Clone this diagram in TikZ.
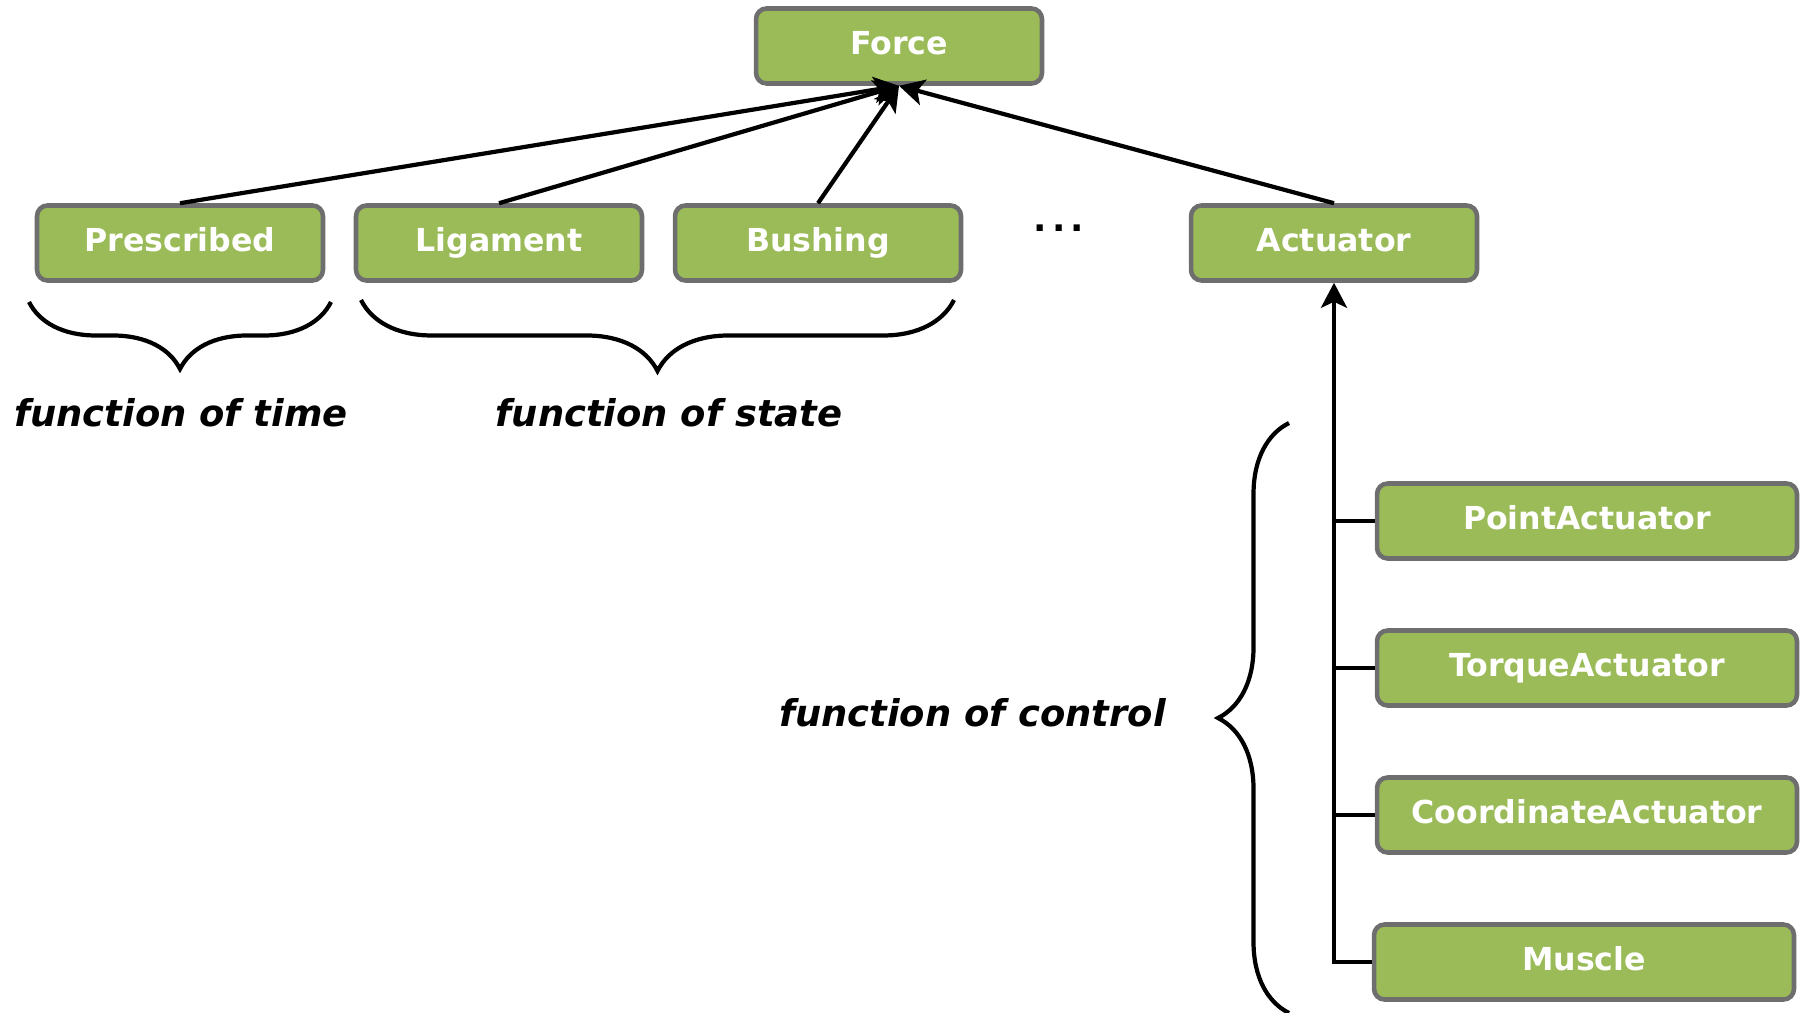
\documentclass[tikz,border=0pt]{standalone}
\usepackage{fontspec}
\setmainfont{DejaVu Sans}
\usepackage{xcolor}
\usetikzlibrary{arrows.meta,decorations.pathreplacing}

\definecolor{boxgreen}{HTML}{9BBB59}
\definecolor{boxgray}{HTML}{6E6E6E}

\begin{document}
\begin{tikzpicture}[x=0.02cm,y=-0.02cm]
  \tikzset{box/.style={draw=boxgray,fill=boxgreen,line width=2.6pt,rounded corners=6pt,minimum height=1.5cm,inner sep=0pt,text height=9.4pt,text depth=0pt,text=white,font=\fontsize{18}{20}\selectfont\bfseries},
    small/.style={box,minimum width=5.72cm},
    wide/.style={box,minimum width=8.4cm},
    link/.style={line width=2.4pt,-{Stealth[length=0.5cm,width=0.52cm,inset=0.12cm]}},
    bar/.style={line width=2.4pt},
    brc/.style={line width=2.4pt,decorate,decoration={brace,amplitude=#1}},
    note/.style={font=\fontsize{21}{24}\selectfont\bfseries\itshape}};
  \useasboundingbox (0,0) rectangle (1804,1013);
  \node[small] (Force) at (899,46){Force};
  \node[small] (Prescribed) at (180,243){Prescribed};
  \node[small] (Ligament) at (499,243){Ligament};
  \node[small] (Bushing) at (818,243){Bushing};
  \node[small] (Actuator) at (1334,243){Actuator};
  \node[font=\fontsize{20}{22}\selectfont\bfseries] (dots) at (1059,228){.\kern0.15em.\kern0.15em.};
  \node[wide] (PointAct) at (1587,521){PointActuator};
  \node[wide] (TorqueAct) at (1587,668){TorqueActuator};
  \node[wide] (CoordAct) at (1587,815){CoordinateActuator};
  \node[wide] (Muscle) at (1584,962){Muscle};
  \draw[link] (Prescribed.north) -- (Force.south);
  \draw[link] (Ligament.north) -- (Force.south);
  \draw[link] (Bushing.north) -- (Force.south);
  \draw[link] (Actuator.north) -- (Force.south);
  \draw[link] (Muscle.west) -| (Actuator.south);
  \draw[bar] (PointAct.west) -- (PointAct.west -| Actuator.south);
  \draw[bar] (TorqueAct.west) -- (TorqueAct.west -| Actuator.south);
  \draw[bar] (CoordAct.west) -- (CoordAct.west -| Actuator.south);
  % braces
  \coordinate (timeR) at (331,302);
  \coordinate (timeL) at (29,302);
  \coordinate (stateR) at (954,300);
  \coordinate (stateL) at (361,300);
  \coordinate (ctrlB) at (1289,1013);
  \coordinate (ctrlT) at (1289,423);
  \draw[brc=1.34cm] (timeR) -- (timeL);
  \draw[brc=1.42cm] (stateR) -- (stateL);
  \draw[brc=1.42cm] (ctrlB) -- (ctrlT);
  \node[note] (time) at (181,413){function of time};
  \node[note] (state) at (669,413){function of state};
  \node[note,anchor=east] (control) at (1172,713){function of control};
\end{tikzpicture}
\end{document}
